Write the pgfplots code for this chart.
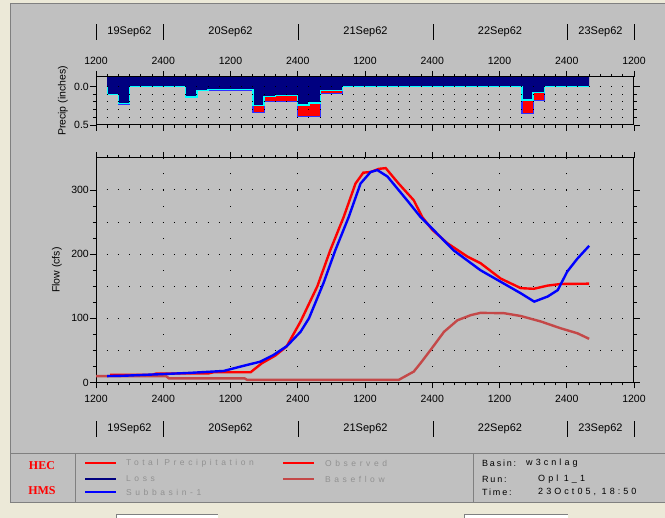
\documentclass[border=0pt]{standalone}
\usepackage{pgfplots}
\pgfplotsset{compat=1.18}
\usepackage{pgfplotstable}
\usepackage{fontspec}
\setmainfont{Liberation Sans}
\newfontfamily\legendfont[LetterSpace=42]{Liberation Sans}
\newfontfamily\infofont[LetterSpace=34]{Liberation Sans}
\newfontfamily\infokeyfont[LetterSpace=20]{Liberation Sans}
\newfontfamily\logofont{Liberation Serif}

\definecolor{winbeige}{RGB}{236,233,216}
\definecolor{panelgray}{RGB}{192,192,192}
\definecolor{edgegray}{RGB}{128,128,128}
\definecolor{lossnavy}{RGB}{0,0,128}
\definecolor{losscyan}{RGB}{0,255,255}
\definecolor{precipred}{RGB}{255,0,0}
\definecolor{precipedge}{RGB}{48,48,255}
\definecolor{obsred}{RGB}{255,0,0}
\definecolor{simblue}{RGB}{0,0,255}
\definecolor{basered}{RGB}{196,72,72}
\definecolor{ghosttext}{RGB}{145,145,145}

% time in hours after 19Sep62 12:00; each value holds until the next row
\pgfplotstableread{
h    loss   total
2    0      0
2    0.100  0.100
4    0.220  0.230
6    0      0
16   0.135  0.145
18   0.055  0.055
20   0.042  0.052
28   0.250  0.335
30   0.130  0.195
32   0.115  0.190
36   0.240  0.385
38   0.215  0.385
40   0.052  0.090
44   0      0
76   0.175  0.350
78   0.080  0.185
80   0      0
88   0      0
}\precip

\pgfplotstableread{
h     q
2.5   12
10    12
10.8  14
20    14
21    16
27.6  16
29.6  30
32    42
34    56
36.5  95
39.5  150
41.8  206
44.2  258
46.3  310
47.7  327
49.0  328
50.5  333
51.7  334
54.0  310
56.7  284
58.2  258
60.0  238
62.7  217
66.3  196
68.6  186
72.2  162
75.8  147
78.1  146
80.6  151
82.9  153.5
88    154
}\observed

\pgfplotstableread{
h     q
2     10
4.9   10.5
10.85 12.7
16.8  15
22.8  18
25.7  24.6
29.3  32.4
31.7  43
34.1  57
36.5  79
38.0  100
40.6  155
42.7  206
45.1  258
47.2  310
49.0  328
50.2  331
52.0  321
55.5  284
57.9  258
60.2  238
63.8  206
66.9  186
68.6  175
72.2  157
75.8  139
78.2  126
80.6  134
82.4  144
84.1  173
85.9  193
88    213
}\subbasin

\pgfplotstableread{
h     q
0     10
12.5  10
13    6.5
26.5  6.5
27    4
54    4
56.7  17
57.9  30
59.7  50.6
62.1  79
64.5  97
66.9  105
68.6  108.5
72.8  108
75.8  103.6
79.4  95
82.9  84.5
85.9  76.7
88    68
}\baseflow

\pgfplotsset{
  hmsaxis/.style={
    width=538pt, scale only axis, anchor=south west,
    xmin=0, xmax=96,
    xtick={0,12,...,96},
    xticklabels={1200,2400,1200,2400,1200,2400,1200,2400,1200},
    minor x tick num=5,
    axis line style={black, line width=1pt},
    tick style={black, line width=0.9pt},
    tick align=outside,
    major tick length=6pt, minor tick length=3pt,
    ticklabel style={font=\fontsize{10.5}{12}\selectfont, inner sep=1pt},
    label style={font=\fontsize{10.5}{12}\selectfont},
    major grid style={black, line width=1pt},
    minor grid style={black, line width=1pt},
  },
}

\begin{document}
\begin{tikzpicture}
\useasboundingbox (0pt,0pt) rectangle (665pt,518pt);
% window frame
\fill[winbeige] (0pt,0pt) rectangle (665pt,518pt);
\fill[panelgray] (10pt,15pt) rectangle (665pt,514pt);
\draw[edgegray, line width=1pt] (10pt,15pt) -- (10pt,514pt) -- (665pt,514pt);

% precipitation panel
\begin{axis}[hmsaxis,
  at={(96pt,393pt)}, height=48.1pt,
  ymin=-0.125, ymax=0.5, y dir=reverse,
  axis on top,
  xticklabel pos=top,
  xticklabel style={yshift=5pt},
  ytick={0,0.5}, yticklabels={0.0,0.5},
  minor ytick={0.1,0.2,0.3,0.4},
  ymajorgrids, yminorgrids,
  grid style={dash pattern=on 1pt off 10.208pt, dash phase=0.5pt},
  ylabel={Precip (inches)},
  ylabel style={at={(axis description cs:-0.0613,0.5)}, anchor=center},
]
\addplot[const plot, fill=precipred, draw=precipedge, line width=1.2pt]
  table[x=h, y=total] {\precip};
\addplot[const plot, fill=lossnavy, draw=none]
  table[x=h, y=loss] {\precip} -- (axis cs:88,-0.125) -- (axis cs:2,-0.125) -- cycle;
\addplot[const plot, losscyan, line width=1.3pt]
  table[x=h, y=loss] {\precip};
\end{axis}

% flow panel
\begin{axis}[hmsaxis,
  at={(96pt,135.5pt)}, height=224.6pt,
  ymin=0, ymax=350,
  xticklabel style={yshift=-5pt},
  ytick={0,100,200,300}, yticklabels={0,100,200,300},
  minor y tick num=3,
  extra y ticks={50,150,250}, extra y tick labels={},
  extra y tick style={grid=major, major tick length=3pt},
  xmajorgrids, ymajorgrids,
  x grid style={dash pattern=on 1pt off 15.04pt, dash phase=0.5pt},
  y grid style={dash pattern=on 1pt off 10.208pt, dash phase=0.5pt},
  ylabel={Flow (cfs)},
  ylabel style={at={(axis description cs:-0.0725,0.5)}, anchor=center},
]
\addplot[basered, line width=2.4pt] table[x=h, y=q] {\baseflow};
\addplot[obsred, line width=2.4pt] table[x=h, y=q] {\observed};
\addplot[simblue, line width=2.4pt] table[x=h, y=q] {\subbasin};
\end{axis}

% date bands
\foreach \yy in {478,81} {
  \foreach \xx in {96,163,298,433,567,634}
    \draw[black, line width=1pt] (\xx pt,\yy pt) -- (\xx pt,\yy pt + 16pt);
}
\foreach \xx/\dd in {129.5/19Sep62,230.5/20Sep62,365.5/21Sep62,500/22Sep62,600.5/23Sep62} {
  \node[font=\fontsize{11}{12}\selectfont, inner sep=0pt] at (\xx pt,486pt) {\dd};
  \node[font=\fontsize{11}{12}\selectfont, inner sep=0pt] at (\xx pt,89pt) {\dd};
}

% legend strip
\draw[edgegray, line width=1pt] (10pt,64pt) -- (665pt,64pt);
\draw[edgegray, line width=1pt] (10pt,15pt) -- (665pt,15pt);
\draw[edgegray, line width=1pt] (75pt,15pt) -- (75pt,64pt);
\draw[edgegray, line width=1pt] (473pt,15pt) -- (473pt,64pt);

\node[text=red, font=\logofont\bfseries\fontsize{12}{13}\selectfont, inner sep=0pt] at (42pt,52pt) {HEC};
\node[text=red, font=\logofont\bfseries\fontsize{12}{13}\selectfont, inner sep=0pt] at (42pt,27pt) {HMS};

\draw[obsred, line width=2.5pt] (85pt,55pt) -- (116pt,55pt);
\draw[lossnavy, line width=2.5pt] (85pt,39pt) -- (116pt,39pt);
\draw[simblue, line width=2.5pt] (85pt,26pt) -- (116pt,26pt);
\draw[obsred, line width=2.5pt] (283pt,55pt) -- (314pt,55pt);
\draw[basered, line width=2.5pt] (283pt,39pt) -- (314pt,39pt);
\begin{scope}[every node/.style={anchor=west, inner sep=0pt, text=ghosttext, font=\legendfont\fontsize{8.5}{10}\selectfont}]
\node at (126pt,55pt) {Total Precipitation};
\node at (126pt,39pt) {Loss};
\node at (126pt,26pt) {Subbasin-1};
\node at (325pt,55pt) {Observed};
\node at (325pt,39pt) {Baseflow};
\end{scope}
\begin{scope}[every node/.style={anchor=west, inner sep=0pt, font=\infokeyfont\fontsize{9}{10}\selectfont}]
\node at (482pt,55pt) {Basin:};
\node at (482pt,39pt) {Run:};
\node at (482pt,26pt) {Time:};
\end{scope}
\begin{scope}[every node/.style={anchor=west, inner sep=0pt, font=\infofont\fontsize{9}{10}\selectfont}]
\node at (526pt,55pt) {w3cnlag};
\node at (538pt,39pt) {Opl 1\_1};
\node at (538pt,26pt) {23Oct05, 18:50};
\end{scope}

% buttons below the strip
\fill[white] (116pt,0pt) rectangle (218pt,4pt);
\draw[edgegray, line width=0.8pt] (116pt,0pt) -- (116pt,4pt) -- (218pt,4pt);
\fill[white] (464pt,0pt) rectangle (568pt,4pt);
\draw[edgegray, line width=0.8pt] (464pt,0pt) -- (464pt,4pt) -- (568pt,4pt);
\end{tikzpicture}
\end{document}
